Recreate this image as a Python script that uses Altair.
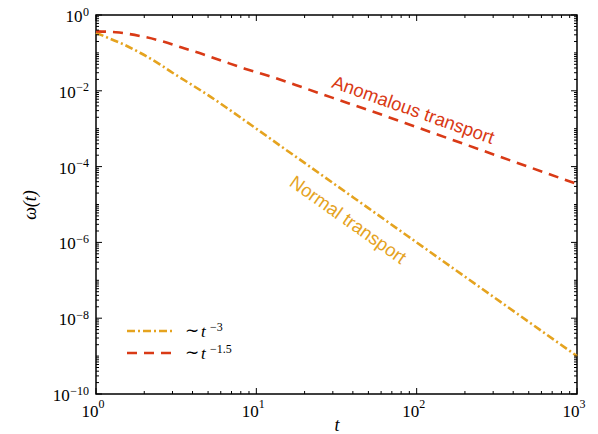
import altair as alt
import pandas as pd

# ---- data ----
t_norm = [1, 1.2, 1.5, 1.88, 2.5, 3, 4, 5, 7, 10, 15, 20, 30, 50, 100, 200, 500, 1000]
w_norm = [0.34, 0.245, 0.165, 0.101, 0.05, 0.03, 0.014, 0.0077, 0.0029, 1.0e-3, 2.95e-4,
          1.25e-4, 3.7e-5, 8.0e-6, 1.0e-6, 1.25e-7, 8.0e-9, 1.0e-9]
t_anom = [1, 1.33, 1.96, 2.62, 3.54, 4.65, 6.29, 8.38, 12, 20, 30, 50, 100, 200, 500, 1000]
w_anom = [0.37, 0.35, 0.27, 0.20, 0.132, 0.092, 0.059, 0.039, 0.0246, 0.0118, 6.5e-3,
          3.1e-3, 1.1e-3, 3.88e-4, 9.8e-5, 3.47e-5]
series_names = ["norm", "anom"]
series_exps = ["−3", "−1.5"]
series_colors = ["#E5A31F", "#D93A16"]
series_dash = [[8, 3, 2, 3], [10, 7]]

x_major = [1, 10, 100, 1000]
x_exps = ["0", "1", "2", "3"]
x_minor = [m * 10 ** k for k in range(0, 3) for m in range(2, 10)]
y_major = [10.0 ** -k for k in range(0, 11, 2)]
y_exps = ["0", "−2", "−4", "−6", "−8", "−10"]
y_minor = [10.0 ** -k for k in range(1, 10, 2)] + [m * 10.0 ** k for k in range(-10, 0) for m in range(2, 10)]

ann_text = ["Anomalous transport", "Normal transport"]
ann_t = [95, 37.3]
ann_w = [3.1e-3, 3.9e-6]
ann_angle = [19.5, 35.3]

W, H = 481, 379
serif = "Liberation Serif"
FS, ES = 17, 12  # base / exponent font sizes

df = pd.DataFrame({
    "t": t_norm + t_anom,
    "w": w_norm + w_anom,
    "s": [series_names[0]] * len(t_norm) + [series_names[1]] * len(t_anom),
})

xs = alt.Scale(type="log", domain=[1, 1000], nice=False)
ys = alt.Scale(type="log", domain=[1e-10, 1], nice=False)

x_axis = alt.Axis(
    values=x_major, ticks=False, domain=False, grid=False, labels=False,
    title="t", titleFontStyle="italic", titleX=W / 2, titleY=36, titleBaseline="alphabetic")
y_axis = alt.Axis(
    values=y_major, ticks=False, domain=False, grid=False, labels=False,
    title="ω(t)", titleFontStyle="italic", titleX=-66, titleY=H / 2, titleAngle=-90,
    titleBaseline="middle", titleAlign="center")

lines = alt.Chart(df).mark_line(strokeWidth=2.6, interpolate="monotone").encode(
    x=alt.X("t:Q", scale=xs, axis=x_axis),
    y=alt.Y("w:Q", scale=ys, axis=y_axis),
    color=alt.Color("s:N", scale=alt.Scale(domain=series_names, range=series_colors), legend=None),
    strokeDash=alt.StrokeDash("s:N", scale=alt.Scale(domain=series_names, range=series_dash), legend=None),
    detail="s:N",
)

layers = [lines]

def xticks(vals, L):
    d = pd.DataFrame({"t": vals})
    b = alt.Chart(d).mark_rule(color="black", strokeWidth=1)
    x = alt.X("t:Q", scale=xs, axis=x_axis)
    return [b.encode(x=x, y=alt.value(H), y2=alt.value(H - L)),
            b.encode(x=x, y=alt.value(0), y2=alt.value(L))]

def yticks(vals, L):
    d = pd.DataFrame({"w": vals})
    b = alt.Chart(d).mark_rule(color="black", strokeWidth=1)
    y = alt.Y("w:Q", scale=ys, axis=y_axis)
    return [b.encode(y=y, x=alt.value(0), x2=alt.value(L)),
            b.encode(y=y, x=alt.value(W), x2=alt.value(W - L))]

layers += xticks(x_major, 6) + xticks(x_minor, 3) + yticks(y_major, 6) + yticks(y_minor, 3)

# x tick labels: "10" + raised exponent
dxl = pd.DataFrame({"t": x_major, "e": x_exps})
xenc = alt.X("t:Q", scale=xs, axis=x_axis)
layers.append(alt.Chart(dxl).mark_text(font=serif, fontSize=FS, align="center", baseline="alphabetic",
                                        dx=-6, color="black").encode(
    x=xenc, y=alt.value(H + 23), text=alt.value("10")))
layers.append(alt.Chart(dxl).mark_text(font=serif, fontSize=ES, align="left", baseline="alphabetic",
                                        dx=2.5, color="black").encode(
    x=xenc, y=alt.value(H + 14), text="e:N"))

# y tick labels: right aligned "10^e"
def exp_width(e):
    return sum(6.8 if c == "−" else 6.0 for c in e)

yenc = alt.Y("w:Q", scale=ys, axis=y_axis)
dyl = pd.DataFrame({"w": y_major, "e": y_exps})
layers.append(alt.Chart(dyl).mark_text(font=serif, fontSize=ES, align="right", baseline="alphabetic",
                                        dy=0.5, color="black").encode(
    y=yenc, x=alt.value(-7), text="e:N"))
for v, e in zip(y_major, y_exps):
    d = pd.DataFrame({"w": [v]})
    layers.append(alt.Chart(d).mark_text(font=serif, fontSize=FS, align="right", baseline="alphabetic",
                                          dy=7, color="black").encode(
        y=yenc, x=alt.value(-7.5 - exp_width(e)), text=alt.value("10")))

for i in range(2):
    d = pd.DataFrame({"t": [ann_t[i]], "w": [ann_w[i]], "label": [ann_text[i]]})
    layers.append(alt.Chart(d).mark_text(
        angle=ann_angle[i], font="Liberation Sans", fontSize=18.5,
        color=series_colors[1 - i], align="center", baseline="middle").encode(
        x=alt.X("t:Q", scale=xs, axis=x_axis), y=alt.Y("w:Q", scale=ys, axis=y_axis), text="label:N"))

# manual legend (fixed pixel layout)
one = pd.DataFrame({"k": [0]})
leg_y = [316, 338]
for i in range(2):
    ly = leg_y[i]
    layers.append(alt.Chart(one).mark_rule(
        color=series_colors[i], strokeDash=series_dash[i], strokeWidth=2.6).encode(
        x=alt.value(31), x2=alt.value(76), y=alt.value(ly)))
    layers.append(alt.Chart(one).mark_text(
        font=serif, fontSize=FS, align="left", baseline="alphabetic", color="black").encode(
        x=alt.value(89), y=alt.value(ly + 5), text=alt.value("∼")))
    layers.append(alt.Chart(one).mark_text(
        font=serif, fontSize=FS, fontStyle="italic", align="left", baseline="alphabetic",
        color="black").encode(x=alt.value(105), y=alt.value(ly + 6), text=alt.value("t")))
    layers.append(alt.Chart(one).mark_text(
        font=serif, fontSize=ES, align="left", baseline="alphabetic", color="black").encode(
        x=alt.value(114), y=alt.value(ly), text=alt.value(series_exps[i])))

chart = alt.layer(*layers).properties(
    width=W, height=H,
    autosize=alt.AutoSizeParams(type="none"),
    padding={"left": 88, "top": 7, "right": 13, "bottom": 40},
).configure_view(stroke="black", strokeWidth=1.5).configure_axis(
    titleFont=serif, titleFontSize=18, titleFontWeight="normal", titleColor="black")

chart.save("out.html", embed_options={"renderer": "svg", "actions": False})
